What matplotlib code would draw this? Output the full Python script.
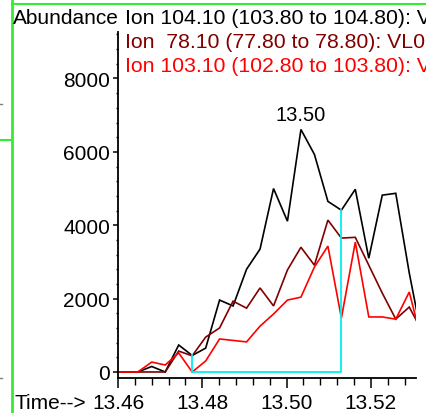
import matplotlib
matplotlib.use('Agg')
import matplotlib.pyplot as plt
import matplotlib.ticker as mtick
from matplotlib.lines import Line2D

plt.rcParams['font.family'] = ['Liberation Sans', 'DejaVu Sans']

# Tempo de retenção (min) de cada scan
tempos = [13.4583, 13.4615, 13.4647, 13.4680, 13.4712, 13.4744, 13.4776, 13.4808,
          13.4841, 13.4873, 13.4905, 13.4937, 13.4969, 13.5002, 13.5034, 13.5066,
          13.5098, 13.5130, 13.5163, 13.5195, 13.5227, 13.5259, 13.5291, 13.5324]

# Abundância por íon
ion_104 = [0, 0, 0, 150, 0, 735, 450, 650, 1960, 1800, 2800, 3350,
           5000, 4110, 6610, 5930, 4650, 4410, 4980, 3100, 4820, 4870, 2700, 760]
ion_78 = [0, 0, 0, 0, 0, 570, 440, 950, 1200, 1930, 1740, 2290,
          1800, 2780, 3400, 2910, 4140, 3650, 3670, 2910, 2150, 1440, 1770, 1060]
ion_103 = [0, 0, 0, 270, 190, 520, 0, 300, 900, 860, 820, 1250,
           1580, 1960, 2040, 2860, 3430, 1470, 3540, 1500, 1500, 1440, 2180, 700]

legendas = ['Ion 104.10 (103.80 to 104.80): V',
            'Ion  78.10 (77.80 to 78.80): VL0',
            'Ion 103.10 (102.80 to 103.80): V']
cores = ['black', '#800000', '#ff0000']

# Integração (baseline)
inicio_int = 13.4776
fim_int = 13.5130

fig = plt.figure(figsize=(4.26, 4.14), dpi=100)
W, H = 426, 414
ax = fig.add_axes([118 / W, (H - 379) / H, (416 - 118) / W, (379 - 33) / H])

for serie, cor in zip([ion_104, ion_78, ion_103], cores):
    ax.plot(tempos, serie, color=cor, lw=1.2, solid_joinstyle='miter')

i0 = tempos.index(inicio_int)
i1 = tempos.index(fim_int)
ax.plot([inicio_int, inicio_int, fim_int, fim_int],
        [ion_104[i0], 0, 0, ion_104[i1]], color='#00f0f0', lw=1.3, zorder=5)

# Pico
ipk = ion_104.index(max(ion_104))
ax.annotate(f'{tempos[ipk]:.2f}', (tempos[ipk], ion_104[ipk]), xytext=(0, 4),
            textcoords='offset points', ha='center', va='bottom', fontsize=14.5)

ax.set_xlim(13.46, 13.5307)
ax.set_ylim(-164, 9267)
ax.xaxis.set_major_locator(mtick.MultipleLocator(0.02))
ax.xaxis.set_minor_locator(mtick.MultipleLocator(0.004))
ax.yaxis.set_major_locator(mtick.MultipleLocator(2000))
ax.yaxis.set_minor_locator(mtick.MultipleLocator(400))
ax.xaxis.set_major_formatter(mtick.FormatStrFormatter('%.2f'))
for s in ['top', 'right']:
    ax.spines[s].set_visible(False)
for s in ['left', 'bottom']:
    ax.spines[s].set_linewidth(1.3)
ax.tick_params(axis='x', which='major', length=7.5, width=1.1, pad=3, labelsize=15)
ax.tick_params(axis='x', which='minor', length=4.8, width=1.0)
ax.tick_params(axis='y', which='major', length=3.6, width=1.1, pad=2, labelsize=15)
ax.tick_params(axis='y', which='minor', length=1.8, width=1.0)

fig.text(12.5 / W, 1 - 18 / H, 'Abundance', ha='left', va='center', fontsize=15)
fig.text(14 / W, 1 - 404 / H, 'Time-->', ha='left', va='center', fontsize=15)
for k, (txt, cor) in enumerate(zip(legendas, cores)):
    fig.text(125 / W, 1 - (19 + 24 * k) / H, txt, ha='left', va='center',
             fontsize=15.3, color=cor)

# Moldura verde e marcas cinza na borda
verde = '#33ee33'
fig.add_artist(Line2D([12 / W, 12 / W], [0, 1], color=verde, lw=2, transform=fig.transFigure))
fig.add_artist(Line2D([12 / W, 1], [1 - 5 / H, 1 - 5 / H], color=verde, lw=1.5, transform=fig.transFigure))
fig.add_artist(Line2D([0, 11 / W], [1 - 141 / H, 1 - 141 / H], color=verde, lw=1.5, transform=fig.transFigure))
fig.add_artist(Line2D([0, 2 / W], [1 - 105 / H, 1 - 105 / H], color='gray', lw=1, transform=fig.transFigure))
fig.add_artist(Line2D([0, 2 / W], [1 - 379 / H, 1 - 379 / H], color='gray', lw=1, transform=fig.transFigure))

fig.savefig('out.png', dpi=100)
